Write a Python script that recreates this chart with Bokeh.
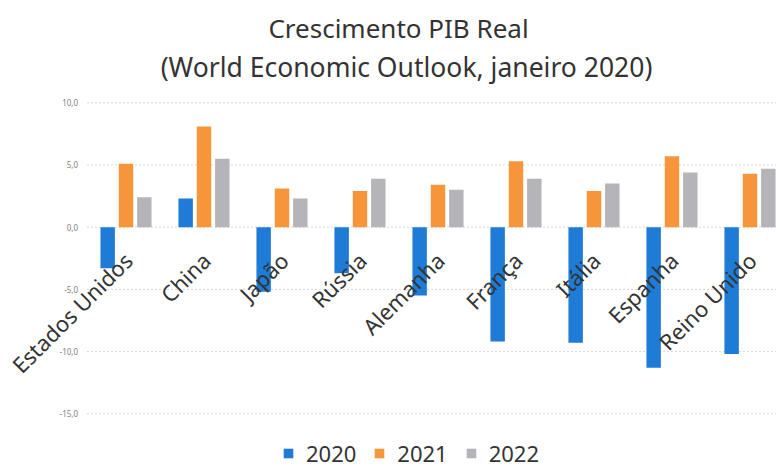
from bokeh.plotting import figure
from bokeh.models import Range1d, Legend, LegendItem, Label, ColumnDataSource
from bokeh.core.properties import value
from bokeh.transform import dodge
from bokeh.embed import file_html
from bokeh.resources import INLINE
import math

countries = ["Estados Unidos", "China", "Japão", "Rússia", "Alemanha", "França",
             "Itália", "Espanha", "Reino Unido"]
years = ["2020", "2021", "2022"]
g2020 = [-3.3, 2.3, -5.2, -3.7, -5.5, -9.2, -9.3, -11.3, -10.2]
g2021 = [5.1, 8.1, 3.1, 2.9, 3.4, 5.3, 2.9, 5.7, 4.3]
g2022 = [2.4, 5.5, 2.3, 3.9, 3.0, 3.9, 3.5, 4.4, 4.7]
yticks = [-15, -10, -5, 0, 5, 10]
title_line1 = "Crescimento PIB Real"
title_line2 = "(World Economic Outlook, janeiro 2020)"

colors = ["#1E7BD6", "#F7953B", "#B4B4B9"]
FONT = "Noto Sans"
TEXT = "#333333"
W, H = 776, 469

X0, X1 = -1.609, 8.34      # full-canvas frame; plot area starts at x = -0.5
Y0, Y1 = -19.48, 18.22     # y = 10 sits 102px below the top, y = -15 at 413px
idx = list(range(len(countries)))
src = ColumnDataSource(dict(x=idx, country=countries, zero=[0] * len(idx),
                            y2020=g2020, y2021=g2021, y2022=g2022))
tick_src = ColumnDataSource(dict(
    y=yticks,
    label=[f"{t:.1f}".replace(".", ",") for t in yticks],
    x0=[-0.5] * len(yticks),
    x1=[X1] * len(yticks)))

p = figure(width=W, height=H, output_backend="svg", toolbar_location=None,
           x_range=Range1d(X0, X1), y_range=Range1d(Y0, Y1),
           x_axis_location=None, y_axis_location=None,
           min_border_left=0, min_border_right=0, min_border_top=0, min_border_bottom=0)
p.outline_line_color = None
p.background_fill_color = "white"
p.border_fill_color = "white"
p.xgrid.grid_line_color = None
p.ygrid.grid_line_color = None

# gridlines and y tick labels
p.segment(x0="x0", x1="x1", y0="y", y1="y", source=tick_src,
          line_color="#ddd3d8", line_width=1, line_dash="2 2")
p.text(x="x0", y="y", text="label", source=tick_src, x_offset=-9,
       text_align="right", text_baseline="middle",
       text_font=value(FONT), text_font_size="8px", text_color="#7f7f7f")

offsets = [-0.235, 0.0, 0.235]
renderers = []
for yr, col, off in zip(years, colors, offsets):
    r = p.vbar(x=dodge("x", off), top="y" + yr, bottom=0, width=0.185, source=src,
               fill_color=col, line_color=None)
    renderers.append(r)

# category labels at the zero line, rotated 45 degrees
p.text(x="x", y="zero", text="country", source=src, angle=math.pi / 4,
       text_align="right", text_baseline="middle", x_offset=2, y_offset=29,
       text_font=value(FONT), text_font_size="22px", text_color=TEXT)

legend = Legend(items=[LegendItem(label=yr, renderers=[r]) for yr, r in zip(years, renderers)],
                orientation="horizontal", location=(282, 1),
                glyph_width=12, glyph_height=12, label_standoff=12, spacing=17,
                padding=0, margin=0, border_line_color=None, background_fill_alpha=0,
                label_text_font=FONT, label_text_font_size="22px", label_text_color=TEXT,
                label_height=22)
p.add_layout(legend)

# two-line title (screen units, measured up from the bottom of the canvas)
p.add_layout(Label(x=398, y=H - 27, x_units="screen", y_units="screen", text=title_line1,
                   text_align="center", text_baseline="middle", text_font=FONT,
                   text_font_size="26px", text_color=TEXT))
p.add_layout(Label(x=406, y=H - 66, x_units="screen", y_units="screen", text=title_line2,
                   text_align="center", text_baseline="middle", text_font=FONT,
                   text_font_size="26.5px", text_color=TEXT))

open("out.html", "w").write(file_html(p, INLINE))
